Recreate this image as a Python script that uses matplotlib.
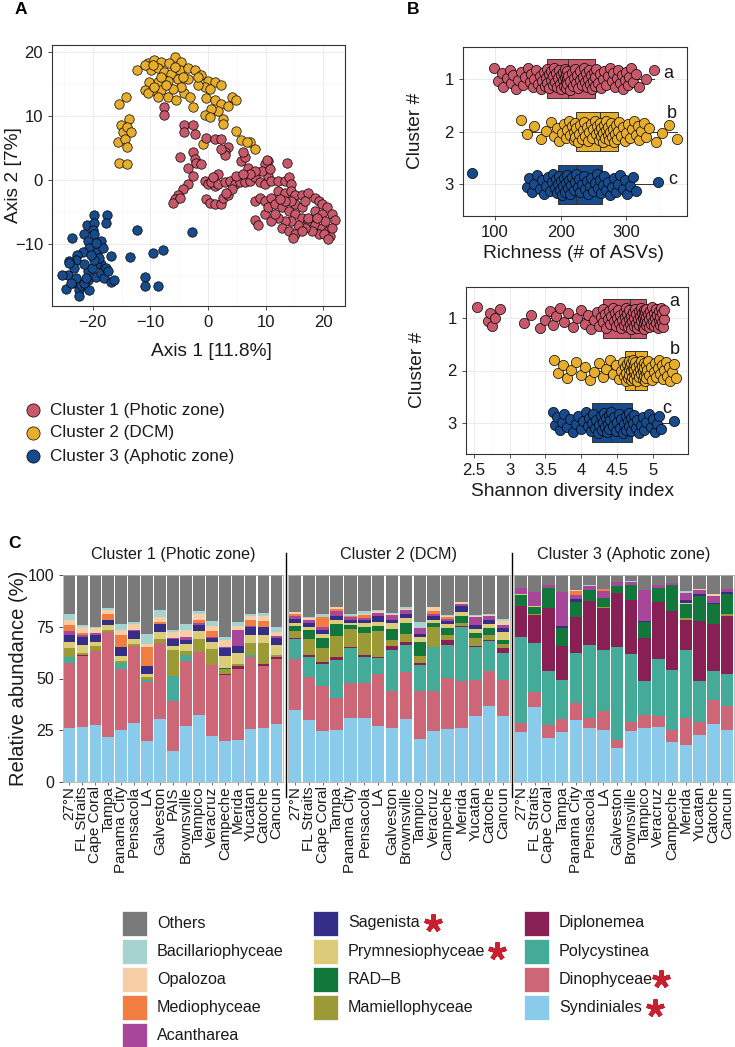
import numpy as np
import matplotlib.pyplot as plt
from matplotlib.ticker import FixedLocator
from matplotlib.patches import Rectangle
from matplotlib.lines import Line2D

plt.rcParams['font.family'] = ['Liberation Sans', 'DejaVu Sans']

W, H = 735, 1047
clu_cols = ['#C8596B', '#E7AE2D', '#184B8C']
clu_names = ['Cluster 1 (Photic zone)', 'Cluster 2 (DCM)', 'Cluster 3 (Aphotic zone)']

# ---- panel A: PCoA coordinates ----
pc1_x = [-7.6, -7.7, -4.1, -2.6, -2.3, -4.1, -0.3, 1.2, 2.3, 3.5, 2.9, 3.0, 2.3, -4.9, -3.5, -2.6, -2.3,
         -2.0, -1.2, -2.6, -3.5, -4.4, -5.2, -5.8, -6.1, -4.9, -0.6, 0.0, 1.2, 0.6, 1.7, 2.9, 3.8, 4.7,
         5.5, 6.4, 7.3, 8.1, 9.0, 9.9, 10.5, 11.0, 12.2, 13.4, 14.0, 14.5, -0.3, 0.3, 1.2, 2.3, 2.6, 3.5,
         4.1, 3.2, 5.8, 6.4, 7.0, 6.1, 10.5, 9.9, 9.3, 8.1, 7.3, 13.7, 8.1, 9.0, 9.9, 11.0, 12.2, 13.4,
         14.5, 15.1, 16.3, 17.4, 18.6, 19.2, 19.8, 20.6, 21.5, 22.1, 8.1, 8.7, 9.9, 10.5, 11.6, 12.8, 14.0,
         15.1, 16.3, 17.4, 18.6, 19.8, 20.9, 21.2, 19.2, 18.0, 16.9, 15.7, 14.5, 13.4, 12.8, 14.0, 15.1,
         16.3, 17.4, 18.6, 19.8, 20.3, 21.5, 12.2, 11.0, 11.6, 15.1, 16.3, 16.9, 14.5, 13.4, 12.5, 18.9,
         20.1, 20.9, 14.8, 10.2, 10.8, 4.9, 6.1, 1.7, 0.9]
pc1_y = [11.4, 10.1, 8.5, 8.5, 7.2, 7.4, 6.6, 6.4, 6.4, 5.1, 4.3, 3.8, 4.8, 3.5, 1.9, 4.3, 3.2,
         2.7, 2.5, 0.6, -0.7, -1.5, -2.3, -3.0, -3.6, -2.8, -0.2, -0.7, -0.9, -0.4, -0.7, -0.4, -0.2, -0.7,
         -0.4, -0.4, -0.2, 0.4, -0.4, -0.7, 0.6, -0.2, -0.2, -0.2, 0.4, -0.7, -3.0, -3.6, -3.8, -3.8, -2.8, -2.3,
         -1.5, -2.0, 3.0, 3.5, 1.9, 4.3, 3.0, 2.5, 1.4, 1.4, 0.9, 2.7, -3.3, -2.8, -3.3, -2.8, -1.7, -2.0,
         -1.7, -2.3, -2.3, -2.0, -2.8, -3.3, -3.8, -4.3, -5.4, -6.2, -6.2, -7.0, -5.4, -4.3, -3.8, -4.3, -4.9,
         -5.4, -5.9, -6.4, -7.0, -7.5, -8.0, -8.8, -8.5, -8.0, -7.5, -7.0, -6.4, -6.4, -7.5, -8.0, -8.5,
         -8.0, -5.9, -4.9, -5.4, -6.4, -7.5, -5.9, -6.4, -5.4, -3.8, -4.3, -3.3, -3.3, -3.3, -3.0, -5.9,
         -8.5, -9.3, -9.1, 3.1, 1.7, 0.6, 0.9, 0.9, 0.4]

pc2_x = [-12.3, -10.5, -9.3, -8.1, -5.8, -4.7, -6.7, -9.9, -8.7, -7.6, -6.4, -4.9, -3.5, -2.3, -1.2, 0.0,
         1.2, 2.3, -0.6, -1.7, -3.5, -5.2, -7.0, -8.7, -10.2, -11.0, -9.6, -8.1, -7.0, -5.5, -8.7, -10.5,
         -4.1, -3.2, -2.6, -4.7, -0.3, 1.2, 2.3, 3.5, 4.1, 4.9, 1.7, 0.6, -0.6, 0.3, 2.6, 2.6, -15.4, -14.2,
         -13.7, -15.1, -14.8, -14.0, -13.4, -15.7, -14.5, -14.0, -15.4, -14.1, 4.9, 5.8, 7.3, 8.1, 6.7, -0.9,
         -11.0, -9.6, -5.8, -4.4, -8.1, -9.3, -6.1, -7.3, -1.7, 0.3]
pc2_y = [17.1, 18.2, 18.7, 18.4, 19.2, 18.4, 18.2, 17.1, 17.4, 16.9, 16.6, 17.1, 17.4, 17.1, 16.3, 15.5,
         15.3, 14.8, 14.5, 14.8, 15.8, 15.8, 15.5, 15.3, 15.3, 14.0, 14.0, 14.0, 12.9, 12.4, 12.9, 13.5,
         13.5, 12.9, 11.4, 14.5, 12.7, 12.4, 11.9, 11.6, 12.9, 12.4, 10.8, 11.1, 10.1, 9.8, 9.5, 8.7, 11.9, 12.9,
         9.5, 8.5, 7.4, 8.2, 7.4, 5.9, 6.4, 5.1, 2.7, 2.5, 7.7, 6.2, 5.9, 4.8, 5.9, 5.6,
         17.9, 17.9, 17.6, 16.1, 16.1, 14.5, 14.2, 14.8, 16.1, 14.2]

pc3_x = [-19.8, -17.6, -17.7, -21.0, -19.8, -19.9, -23.7, -21.5, -19.8, -20.9, -20.6, -21.8, -22.7, -23.0,
         -24.1, -23.3, -24.4, -24.7, -23.5, -22.4, -22.1, -20.9, -19.5, -18.6, -18.0, -16.9, -16.3, -19.2,
         -18.6, -18.3, -16.9, -18.6, -19.5, -20.9, -22.4, -20.6, -21.5, -20.1, -18.9, -19.8, -17.7, -17.4,
         -21.6, -20.3, -19.5, -21.2, -23.0, -23.8, -25.3, -24.1, -12.3, -13.5, -9.6, -7.8, -2.8, -11.0,
         -10.9, -8.6]
pc3_y = [-5.5, -5.5, -6.7, -7.1, -6.7, -7.9, -9.1, -8.5, -8.5, -9.6, -10.6, -11.2, -11.7, -12.5,
         -12.7, -13.8, -14.8, -17.0, -16.1, -17.2, -16.4, -15.6, -15.1, -14.6, -15.3, -15.9, -15.6, -11.2,
         -9.6, -10.6, -11.9, -13.2, -13.2, -14.3, -18.2, -17.2, -16.1, -13.8, -12.2, -12.5, -13.8, -14.3,
         -13.2, -11.7, -9.8, -15.4, -15.4, -16.1, -14.9, -13.0, -7.9, -12.1, -11.4, -10.9, -8.2, -15.1,
         -16.6, -16.5]

# ---- panel B: alpha diversity ----
rich_c1 = [98, 105, 110, 112, 118, 122, 125, 128, 132, 135, 140, 143, 146, 150, 153, 155, 158, 160, 163, 165,
           168, 170, 172, 175, 176, 178, 179, 180, 182, 183, 185, 186, 188, 189, 190, 192, 193, 195, 196, 198,
           199, 200, 201, 203, 204, 205, 206, 207, 208, 209, 209, 210, 210, 210, 212, 214, 215, 217, 219, 220,
           222, 224, 225, 227, 229, 230, 232, 234, 235, 237, 239, 240, 242, 244, 245, 247, 248, 250, 251, 252,
           252, 254, 257, 260, 262, 265, 267, 270, 273, 275, 278, 280, 283, 286, 288, 290, 293, 296, 298, 300,
           303, 305, 308, 310, 315, 320, 330, 342]
rich_c2 = [140, 148, 160, 170, 178, 185, 190, 195, 198, 202, 205, 208, 210, 213, 215, 218, 220, 221, 222, 222,
           224, 226, 228, 230, 232, 234, 236, 238, 240, 242, 244, 246, 248, 250, 252, 254, 256, 258, 259, 260,
           261, 262, 264, 265, 266, 268, 269, 270, 272, 273, 274, 276, 277, 278, 280, 281, 283, 284, 286, 287,
           289, 292, 295, 298, 300, 303, 306, 309, 312, 315, 318, 320, 323, 327, 330, 335, 345, 355, 365, 378]
rich_c3 = [65, 148, 152, 156, 160, 164, 168, 172, 175, 178, 181, 184, 187, 189, 191, 193, 195,
           196, 198, 199, 201, 202, 204, 205, 207, 208, 210, 212, 213, 215, 216, 218, 220, 222,
           224, 226, 228, 230, 233, 235, 238, 240, 242, 245, 247, 250, 252, 255, 257, 260, 262,
           264, 267, 270, 273, 276, 279, 282, 285, 288, 291, 295, 298, 302, 306, 310, 315, 348]
shan_c1 = [2.55, 2.70, 2.73, 2.76, 2.79, 2.86, 3.20, 3.30, 3.42, 3.50, 3.56, 3.60, 3.65, 3.70, 3.76, 3.82,
           3.88, 3.94, 4.00, 4.05, 4.10, 4.14, 4.18, 4.22, 4.25, 4.28, 4.30, 4.31, 4.33, 4.35, 4.37, 4.39,
           4.40, 4.42, 4.44, 4.45, 4.47, 4.48, 4.50, 4.51, 4.53, 4.54, 4.56, 4.57, 4.59, 4.60, 4.61, 4.62,
           4.63, 4.64, 4.65, 4.66, 4.67, 4.68, 4.69, 4.70, 4.71, 4.72, 4.73, 4.74, 4.75, 4.76, 4.77, 4.78,
           4.79, 4.80, 4.81, 4.82, 4.83, 4.84, 4.85, 4.86, 4.86, 4.87, 4.87, 4.88, 4.88, 4.89, 4.89, 4.90,
           4.90, 4.91, 4.92, 4.93, 4.94, 4.95, 4.96, 4.97, 4.98, 4.99, 5.00, 5.01, 5.02, 5.03, 5.04, 5.05,
           5.06, 5.07, 5.08, 5.09, 5.10, 5.10, 5.11, 5.12, 5.13, 5.14, 5.15, 5.15]
shan_c2 = [3.62, 3.68, 3.75, 3.80, 3.86, 3.92, 4.00, 4.05, 4.12, 4.18, 4.25, 4.30, 4.35, 4.40, 4.44, 4.48,
           4.52, 4.55, 4.58, 4.60, 4.61, 4.62, 4.63, 4.64, 4.65, 4.66, 4.67, 4.67, 4.68, 4.69, 4.70, 4.70,
           4.71, 4.72, 4.72, 4.73, 4.73, 4.74, 4.74, 4.75, 4.76, 4.77, 4.78, 4.79, 4.80, 4.81, 4.82, 4.83,
           4.84, 4.85, 4.86, 4.86, 4.87, 4.88, 4.88, 4.89, 4.90, 4.90, 4.91, 4.92, 4.93, 4.95, 4.97, 4.99,
           5.01, 5.03, 5.05, 5.07, 5.08, 5.10, 5.12, 5.14, 5.16, 5.18, 5.20, 5.22, 5.24, 5.26, 5.29, 5.32]
shan_c3 = [3.60, 3.63, 3.66, 3.70, 3.73, 3.76, 3.80, 3.84, 3.88, 3.92, 3.96, 4.00, 4.03, 4.06, 4.09, 4.11,
           4.13, 4.15, 4.17, 4.19, 4.21, 4.23, 4.25, 4.27, 4.29, 4.30, 4.32, 4.33, 4.35, 4.36, 4.37, 4.38,
           4.39, 4.40, 4.42, 4.44, 4.46, 4.48, 4.50, 4.52, 4.54, 4.56, 4.58, 4.60, 4.62, 4.63, 4.65, 4.66,
           4.67, 4.69, 4.70, 4.72, 4.74, 4.76, 4.78, 4.80, 4.83, 4.86, 4.88, 4.91, 4.94, 4.97, 5.00, 5.03,
           5.06, 5.08, 5.11, 5.30]
letters = ['a', 'b', 'c']

# ---- panel C: relative abundance (%) per station ----
sites_c1 = ['27°N', 'FL Straits', 'Cape Coral', 'Tampa', 'Panama City', 'Pensacola', 'LA', 'Galveston', 'PAIS',
            'Brownsville', 'Tampico', 'Veracruz', 'Campeche', 'Merida', 'Yucatan', 'Catoche', 'Cancun']
sites_c23 = ['27°N', 'FL Straits', 'Cape Coral', 'Tampa', 'Panama City', 'Pensacola', 'LA', 'Galveston',
             'Brownsville', 'Tampico', 'Veracruz', 'Campeche', 'Merida', 'Yucatan', 'Catoche', 'Cancun']
taxa = ['Syndiniales', 'Dinophyceae', 'Polycystinea', 'Diplonemea', 'Mamiellophyceae', 'RAD\u2013B',
        'Prymnesiophyceae', 'Sagenista', 'Acantharea', 'Mediophyceae', 'Opalozoa', 'Bacillariophyceae', 'Others']
taxa_cols = ['#8ACBEB', '#CD6677', '#43AB98', '#881F55', '#9B9A37', '#12773A',
             '#DCCB78', '#342E87', '#A8479A', '#F27D40', '#F7CDA5', '#A6D3D0', '#7A7A7A']

syndiniales = [[26.3, 26.6, 27.4, 21.5, 25.0, 28.5, 19.7, 30.6, 15.0, 27.1, 32.3, 22.3, 19.7, 20.2, 25.5, 26.3, 27.9],
               [35.0, 29.8, 24.5, 25.3, 31.1, 31.0, 26.9, 26.3, 30.6, 21.0, 24.5, 25.5, 26.3, 31.9, 36.8, 31.8],
               [24.2, 36.3, 21.3, 24.2, 29.8, 26.1, 25.3, 16.5, 24.7, 26.3, 26.6, 19.4, 18.1, 22.6, 28.2, 25.0]]
dinophyceae = [[31.0, 34.4, 36.0, 51.1, 29.4, 37.1, 28.7, 36.7, 24.0, 31.4, 30.6, 34.2, 31.9, 34.6, 34.7, 29.7, 31.3],
               [24.4, 21.0, 22.0, 15.5, 16.5, 16.6, 25.2, 17.6, 22.6, 23.0, 19.4, 24.8, 22.4, 17.6, 16.7, 17.7],
               [4.3, 7.2, 6.1, 6.1, 8.6, 5.0, 8.9, 4.0, 4.3, 6.3, 5.3, 5.6, 12.9, 6.4, 11.6, 11.8]]
polycystinea = [[2.9, 0, 0, 0, 2.9, 0, 1.1, 0, 12.3, 2.7, 0, 0, 0, 0, 1.1, 0, 0],
                [9.7, 9.4, 10.5, 18.0, 16.9, 12.6, 7.6, 19.8, 13.2, 12.4, 21.1, 15.8, 26.0, 15.5, 14.5, 12.6],
                [41.6, 23.7, 26.1, 19.2, 23.7, 35.0, 29.5, 44.8, 32.7, 16.1, 27.7, 29.0, 32.7, 19.7, 13.7, 15.2]]
diplonemea = [[0, 0.5, 0, 0, 0, 0, 0, 0, 0, 0, 0, 0, 0.5, 1.1, 0, 1.0, 1.0],
              [0.6, 1.1, 1.1, 1.6, 0.8, 1.1, 0.8, 1.9, 1.3, 1.1, 0.3, 2.4, 0.6, 0.6, 0.8, 2.4],
              [14.8, 13.4, 30.6, 16.3, 17.4, 21.3, 20.2, 25.8, 26.1, 21.0, 27.4, 28.5, 14.5, 29.0, 22.7, 28.2]]
mamiellophyceae = [[4.4, 1.0, 2.3, 0.8, 1.3, 1.0, 1.3, 2.0, 12.7, 2.1, 6.0, 7.6, 2.4, 1.3, 6.0, 10.3, 1.0],
                   [3.4, 7.6, 6.5, 10.2, 8.4, 10.8, 12.6, 2.9, 3.7, 3.2, 9.4, 2.4, 1.6, 4.2, 2.1, 2.1],
                   [0, 0.5, 0, 0, 0, 0, 0.8, 0, 0, 0, 0, 0, 1.1, 0, 0, 1.0]]
rad_b = [[0, 0, 0, 0, 0, 0, 0, 0, 0, 0, 0, 0, 0.8, 0, 0, 0, 0],
         [2.3, 4.5, 4.8, 5.6, 2.1, 2.6, 2.3, 5.2, 5.5, 6.9, 2.3, 3.7, 3.2, 2.3, 3.7, 1.9],
         [5.3, 3.5, 9.4, 8.7, 7.6, 5.3, 4.0, 3.7, 7.6, 7.7, 6.8, 12.6, 6.5, 12.3, 9.7, 9.5]]
prymnesiophyceae = [[3.2, 3.5, 2.0, 2.4, 2.3, 2.7, 1.6, 3.2, 1.6, 3.2, 4.2, 3.5, 5.5, 5.2, 3.7, 3.7, 4.8],
                    [1.6, 1.6, 2.1, 1.9, 1.1, 1.9, 2.1, 2.9, 2.1, 2.4, 1.3, 1.9, 2.1, 1.6, 1.9, 4.0],
                    [0.5, 0.6, 0, 0, 0, 0, 0, 0, 0, 0, 0, 0, 0.8, 0, 0, 0]]
sagenista = [[3.2, 4.0, 3.5, 2.4, 4.2, 3.7, 3.5, 3.7, 3.7, 2.3, 2.7, 2.0, 4.0, 3.2, 3.7, 4.0, 3.7],
             [1.9, 1.9, 1.9, 1.9, 1.3, 1.6, 2.7, 1.6, 2.1, 1.6, 1.9, 1.3, 2.9, 2.1, 1.6, 2.1],
             [0, 0, 0, 0.8, 1.1, 0, 0, 0, 0, 0.5, 0, 0, 1.3, 0.6, 0.8, 1.3]]
acantharea = [[2.1, 1.2, 0.8, 0, 0, 0.6, 0, 0, 0.5, 1.3, 1.1, 0.6, 0.5, 8.0, 0.6, 0, 0.6],
              [1.3, 1.6, 1.3, 2.6, 1.3, 0.8, 1.6, 2.4, 1.9, 2.9, 1.0, 1.1, 1.1, 3.7, 1.9, 1.1],
              [3.2, 6.5, 1.6, 16.6, 2.1, 2.1, 3.7, 1.9, 1.3, 14.8, 1.6, 1.1, 3.5, 2.1, 3.0, 1.1]]
mediophyceae = [[2.7, 0.8, 0, 2.9, 6.0, 0, 9.4, 1.1, 0, 0, 1.6, 2.9, 0, 0, 3.2, 2.9, 0],
                [1.0, 0, 5.2, 1.1, 0.6, 1.6, 0, 0, 0, 0, 1.6, 0.8, 0, 0, 0, 0],
                [0, 0, 0, 0, 1.9, 0, 0.6, 0, 0, 0, 0, 0, 0, 0, 0, 0]]
opalozoa = [[2.7, 3.0, 2.6, 1.9, 2.2, 2.6, 1.6, 2.4, 2.7, 3.5, 2.6, 2.3, 3.2, 2.0, 1.6, 2.3, 2.1],
            [1.0, 0.7, 0, 0.8, 0, 0.8, 0.7, 0.5, 0.5, 0, 1.6, 0.5, 0.8, 0.6, 0.5, 2.1],
            [0, 0, 0, 0, 0.5, 0, 0, 0, 0, 0, 0, 0, 0, 0.5, 1.3, 0]]
bacillariophyceae = [[2.6, 0.8, 0.3, 1.0, 2.9, 1.0, 4.5, 3.5, 0.9, 2.9, 1.6, 2.6, 1.5, 1.8, 1.0, 1.3, 2.4],
                     [0, 0.5, 1.3, 0, 1.0, 1.3, 0.6, 0.5, 1.1, 2.7, 0.3, 0.5, 0, 0.5, 0.5, 1.1],
                     [0, 0, 0, 0, 0, 0.5, 0, 0, 0.5, 0, 0, 0, 0.8, 0, 0, 0]]
named = [syndiniales, dinophyceae, polycystinea, diplonemea, mamiellophyceae, rad_b,
         prymnesiophyceae, sagenista, acantharea, mediophyceae, opalozoa, bacillariophyceae]

fig = plt.figure(figsize=(W / 100, H / 100), dpi=100)


def box(l, t, r, b):
    return fig.add_axes([l / W, 1 - b / H, (r - l) / W, (b - t) / H])


dark = '#333333'
txt = '#1a1a1a'
tick_kw = dict(labelsize=12, colors=dark, labelcolor=txt, length=3, width=0.6)


def bw_style(ax):
    for s in ax.spines.values():
        s.set_color(dark)
        s.set_linewidth(0.8)
    ax.grid(True, which='major', color='#EBEBEB', lw=0.7, zorder=0)
    ax.grid(True, which='minor', color='#F5F5F5', lw=0.5, zorder=0)
    ax.set_axisbelow(True)
    ax.tick_params(which='minor', length=0)
    ax.tick_params(**tick_kw)


# ---------- A ----------
axA = box(52, 45, 345, 306)
for xs, ys, c in [(pc3_x, pc3_y, clu_cols[2]), (pc2_x, pc2_y, clu_cols[1]), (pc1_x, pc1_y, clu_cols[0])]:
    axA.scatter(xs, ys, s=46, c=c, edgecolors='black', linewidths=0.5, zorder=3)
axA.set_xlim(-27.1, 23.8)
axA.set_ylim(-19.7, 21.05)
axA.xaxis.set_major_locator(FixedLocator([-20, -10, 0, 10, 20]))
axA.yaxis.set_major_locator(FixedLocator([-10, 0, 10, 20]))
axA.xaxis.set_minor_locator(FixedLocator([-25, -15, -5, 5, 15]))
axA.yaxis.set_minor_locator(FixedLocator([-15, -5, 5, 15]))
bw_style(axA)

# ---------- B ----------
axB1 = box(463, 47, 687, 216)
axB2 = box(466, 287, 688, 454)
for ax, data, lims, majors, minors, labpos in [
        (axB1, [rich_c1, rich_c2, rich_c3], (51, 393), [100, 200, 300], [50, 150, 250, 350],
         [(365, 0.9), (370, 1.65), (372, 2.9)]),
        (axB2, [shan_c1, shan_c2, shan_c3], (2.39, 5.49), [2.5, 3, 3.5, 4, 4.5, 5],
         [2.75, 3.25, 3.75, 4.25, 4.75, 5.25], [(5.3, 0.67), (5.3, 1.6), (5.2, 2.73)])]:
    bp = ax.boxplot(data, positions=[1, 2, 3], vert=False, widths=0.75, patch_artist=True,
                    showfliers=False, showcaps=False,
                    medianprops=dict(color=dark, lw=0.7),
                    whiskerprops=dict(color=dark, lw=0.7),
                    boxprops=dict(edgecolor=dark, lw=0.7))
    for patch, c in zip(bp['boxes'], clu_cols):
        patch.set_facecolor(c)
        patch.set_zorder(2)
    for k, vals in enumerate(data):
        n = len(vals)
        jit = ((np.arange(n) * 0.618034) % 1 - 0.5) * 0.42
        ax.scatter(vals, k + 1 + jit, s=54, c=clu_cols[k], edgecolors='black', linewidths=0.5, zorder=3)
    for (lx, ly), let in zip(labpos, letters):
        ax.text(lx, ly, let, fontsize=13, ha='center', va='center', color=txt, zorder=4)
    ax.set_xlim(*lims)
    ax.set_ylim(3.6, 0.4)
    ax.xaxis.set_major_locator(FixedLocator(majors))
    ax.xaxis.set_minor_locator(FixedLocator(minors))
    ax.set_yticks([1, 2, 3])
    ax.set_yticklabels(['1', '2', '3'])
    bw_style(ax)
axB2.set_xticklabels(['2.5', '3', '3.5', '4', '4.5', '5'])

# ---------- C ----------
facets = [(63, 283, sites_c1), (288, 510, sites_c23), (514, 734, sites_c23)]
for k, (l, r, sites) in enumerate(facets):
    ax = box(l, 575, r, 782)
    x = np.arange(len(sites))
    bottom = np.zeros(len(sites))
    for t, vals in enumerate(named):
        v = np.array(vals[k])
        ax.bar(x, v, bottom=bottom, width=0.9, color=taxa_cols[t], edgecolor='none')
        bottom = bottom + v
    ax.bar(x, 100 - bottom, bottom=bottom, width=0.9, color=taxa_cols[-1], edgecolor='none')
    ax.set_xlim(-0.5, len(sites) - 0.5)
    ax.set_ylim(0, 100)
    ax.set_xticks(x)
    ax.set_xticklabels(sites, rotation=90, fontsize=11, color=txt)
    ax.tick_params(axis='x', length=2, width=0.5, colors=dark, labelcolor=txt, pad=1)
    if k == 0:
        ax.set_yticks([0, 25, 50, 75, 100])
        ax.tick_params(axis='y', labelsize=11.5, length=3, width=0.6, colors=dark, labelcolor=txt)
    else:
        ax.set_yticks([])
    for s in ax.spines.values():
        s.set_color('#B0B0B0')
        s.set_linewidth(0.6)

# ---------- overlay for free text / legends ----------
ov = fig.add_axes([0, 0, 1, 1], zorder=10)
ov.set_xlim(0, W)
ov.set_ylim(H, 0)
ov.axis('off')
ov.patch.set_alpha(0)

ov.text(21, 10, 'A', fontsize=12.5, fontweight='bold', ha='center', va='center', color='black')
ov.text(413, 10, 'B', fontsize=12.5, fontweight='bold', ha='center', va='center', color='black')
ov.text(15, 543, 'C', fontsize=12.5, fontweight='bold', ha='center', va='center', color='black')

ov.text(211, 352, 'Axis 1 [11.8%]', fontsize=13.8, ha='center', va='center', color=txt)
ov.text(14, 175, 'Axis 2 [7%]', fontsize=13.8, ha='center', va='center', rotation=90, color=txt)
ov.text(574, 254, 'Richness (# of ASVs)', fontsize=13.8, ha='center', va='center', color=txt)
ov.text(416, 131, 'Cluster #', fontsize=13.8, ha='center', va='center', rotation=90, color=txt)
ov.text(573, 492, 'Shannon diversity index', fontsize=13.8, ha='center', va='center', color=txt)
ov.text(418, 370, 'Cluster #', fontsize=13.8, ha='center', va='center', rotation=90, color=txt)
ov.text(19, 678, 'Relative abundance (%)', fontsize=14.5, ha='center', va='center', rotation=90, color=txt)

# legend A
for k, name in enumerate(clu_names):
    yy = 410 + 23 * k
    ov.scatter([33], [yy], s=90, c=clu_cols[k], edgecolors='black', linewidths=0.5)
    ov.text(50, yy, name, fontsize=12.3, va='center', color=txt)

# facet strips + separators
for (l, r, _), name in zip(facets, clu_names):
    ov.text((l + r) / 2, 555, name, fontsize=11.6, ha='center', va='center', color=txt)
for xs in [286, 512]:
    ov.add_line(Line2D([xs, xs], [553, 797], color='black', lw=1.0))

# legend C
legend_order = taxa[::-1]
legend_cols = taxa_cols[::-1]
col_x = [122, 313, 524]
col_rows = [5, 4, 4]
starred = {'Sagenista': 13, 'Prymnesiophyceae': 12, 'Dinophyceae': 8, 'Syndiniales': 13}
idx = 0
text_objs = []
for c, nrow in enumerate(col_rows):
    for r in range(nrow):
        name = legend_order[idx]
        yy = 923 + 28.2 * r
        ov.add_patch(Rectangle((col_x[c], yy - 12.5), 25, 25, facecolor=legend_cols[idx], edgecolor='white', lw=0.5))
        t = ov.text(col_x[c] + 35, yy, name, fontsize=11.6, va='center', color=txt)
        text_objs.append((name, t, yy))
        idx += 1

fig.canvas.draw()
inv = ov.transData.inverted()
for name, t, yy in text_objs:
    if name in starred:
        bb = t.get_window_extent()
        x_end = inv.transform((bb.x1, bb.y0))[0]
        ov.plot([x_end + starred[name]], [yy], marker=(5, 2, 0), ms=13, mew=3.2, color='#C8202F')

fig.savefig('out.png', dpi=100)
